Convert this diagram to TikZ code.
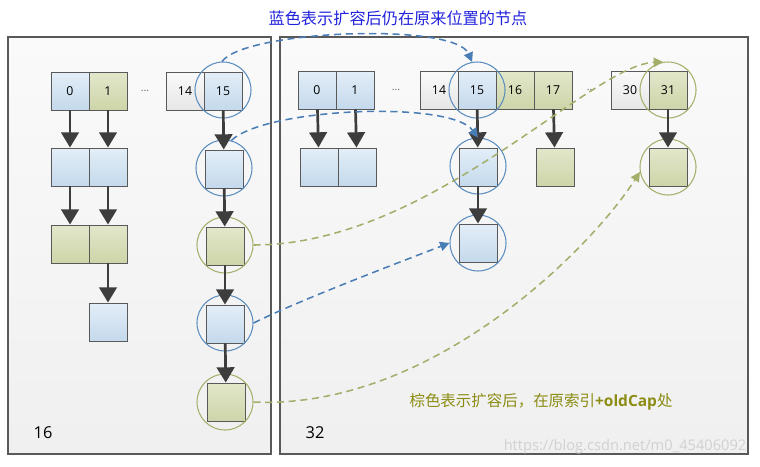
\documentclass[tikz,border=0pt]{standalone}
\usepackage{fontspec}
\setmainfont{Open Sans}
\newfontfamily\cjk{Noto Sans CJK SC}
\usetikzlibrary{arrows.meta}

\definecolor{boxline}{HTML}{595959}
\definecolor{blueTop}{HTML}{E3EEF8}
\definecolor{blueBot}{HTML}{C4D9EC}
\definecolor{greenTop}{HTML}{E2E7CB}
\definecolor{greenBot}{HTML}{CDD5A8}
\definecolor{grayTop}{HTML}{FAFAFA}
\definecolor{grayBot}{HTML}{E6E6E6}
\definecolor{ringblue}{HTML}{5B8DBF}
\definecolor{ringgreen}{HTML}{A3B06A}
\definecolor{dashblue}{HTML}{4A7DB5}
\definecolor{dashgreen}{HTML}{A2AF6A}
\definecolor{linkgray}{HTML}{3D3D3D}
\definecolor{titleblue}{HTML}{2222DD}
\definecolor{noteolive}{HTML}{8C8C14}

\begin{document}
\begin{tikzpicture}[x=0.03cm, y=-0.03cm, > = {Triangle[width=15pt,length=13pt]}]
            % Estilos
            \tikzstyle{cell}=[draw=boxline, line width=0.8pt, inner sep=0pt, minimum width=1.14cm, minimum height=1.14cm, font=\fontsize{10.5}{12}\selectfont]
            \tikzstyle{bluecell}=[cell, top color=blueTop, bottom color=blueBot]
            \tikzstyle{greencell}=[cell, top color=greenTop, bottom color=greenBot]
            \tikzstyle{graycell}=[cell, top color=grayTop, bottom color=grayBot]
            \tikzstyle{ring}=[circle, inner sep=0pt, minimum size=1.68cm, line width=0.9pt]
            \tikzstyle{bluering}=[ring, draw=ringblue]
            \tikzstyle{greenring}=[ring, draw=ringgreen]
            \tikzstyle{link}=[->, line width=2.3pt, draw=linkgray, fill=linkgray]
            \tikzstyle{move}=[-{Triangle[width=8pt,length=8pt]}, dash pattern=on 6pt off 4pt, line width=1.3pt]
            \tikzstyle{dots}=[font=\fontsize{9}{10}\selectfont, text=black!60]
            \tikzstyle{size}=[font=\fontsize{14}{16}\selectfont]

            \useasboundingbox (0,0) rectangle (760,466);

            % Paineis
            \draw[boxline, line width=0.9pt, top color=black!2, bottom color=black!6] (8,37) rectangle (271,454);
            \draw[boxline, line width=0.9pt, top color=black!2, bottom color=black!6] (280,37) rectangle (748,454);

            % Tabela 16
            \node[bluecell] (l0) at (70,91) {0};
            \node[greencell] (l1) at (108,91) {1};
            \node[dots] (ldots) at (145,91) {...};
            \node[graycell] (l14) at (185,91) {14};
            \node[bluecell] (l15) at (223,91) {15};

            \node[bluecell] (l0a) at (70,167) {};
            \node[bluecell] (l1a) at (108,167) {};
            \node[greencell] (l0b) at (70,244) {};
            \node[greencell] (l1b) at (108,244) {};
            \node[bluecell] (l1c) at (108,322) {};

            \node[bluecell] (l15a) at (224,169) {};
            \node[greencell] (l15b) at (225,246) {};
            \node[bluecell] (l15c) at (225,324) {};
            \node[greencell] (l15d) at (226,402) {};

            % Tabela 32
            \node[bluecell] (r0) at (317,90) {0};
            \node[bluecell] (r1) at (355,90) {1};
            \node[dots] (rdots) at (396,90) {...};
            \node[graycell] (r14) at (439,90) {14};
            \node[bluecell] (r15) at (477,90) {15};
            \node[greencell] (r16) at (515,90) {16};
            \node[greencell] (r17) at (553,90) {17};
            \node[dots] (rdots2) at (591,90) {...};
            \node[graycell] (r30) at (630,90) {30};
            \node[greencell] (r31) at (668,90) {31};

            \node[bluecell] (r0a) at (319,167) {};
            \node[bluecell] (r1a) at (357,167) {};
            \node[bluecell] (r15a) at (478,167) {};
            \node[greencell] (r17a) at (555,167) {};
            \node[greencell] (r31a) at (668,167) {};
            \node[bluecell] (r15b) at (478,243) {};

            % Circulos
            \node[bluering] (cl15) at (223,90) {};
            \node[bluering] (cl15a) at (224,168) {};
            \node[greenring] (cl15b) at (225,245) {};
            \node[bluering] (cl15c) at (225,323) {};
            \node[greenring] (cl15d) at (225,402) {};
            \node[bluering] (cr15) at (477,90) {};
            \node[bluering] (cr15a) at (478,166) {};
            \node[bluering] (cr15b) at (478,243) {};
            \node[greenring] (cr31) at (668,90) {};
            \node[greenring] (cr31a) at (668,167) {};

            % Arestas
            \draw[link] (l0) -- (l0a);
            \draw[link] (l1) -- (l1a);
            \draw[link] (l0a) -- (l0b);
            \draw[link] (l1a) -- (l1b);
            \draw[link] (l1b) -- (l1c);
            \draw[link] (l15) -- (l15a);
            \draw[link] (l15a) -- (l15b);
            \draw[link] (l15b) -- (l15c);
            \draw[link] (l15c) -- (l15d);
            \draw[link] (r0) -- (r0a);
            \draw[link] (r1) -- (r1a);
            \draw[link] (r15) -- (r15a);
            \draw[link] (r17) -- (r17a);
            \draw[link] (r31) -- (r31a);
            \draw[link] (r15a) -- (r15b);

            % Movimentos
            \draw[move, dashblue] (cl15.92) .. controls (245,30) and (455,22) .. (cr15.100);
            \draw[move, dashblue] (cl15a.75) .. controls (265,108) and (450,100) .. (cr15a.north);
            \draw[move, dashblue] (cl15c.east) .. controls (300,300) and (400,262) .. (cr15b.west);
            \draw[move, dashgreen] (cl15b.east) .. controls (430,245) and (590,65) .. (cr31.100);
            \draw[move, dashgreen] (cl15d.east) .. controls (430,410) and (590,250) .. (cr31a.190);

            % Anotacoes
            \node[text=titleblue, font=\fontsize{13.8}{16}\selectfont\cjk] (title) at (398,18) {蓝色表示扩容后仍在原来位置的节点};
            \node[text=noteolive, font=\fontsize{13.2}{15}\selectfont] (note) at (541,402) {{\cjk 棕色表示扩容后，在原索引}\textbf{+oldCap}{\cjk 处}};
            \node[size] (n16) at (43,433) {16};
            \node[size] (n32) at (315,433) {32};
            \node[text=black!18, font=\fontsize{12.5}{14}\selectfont] (mark) at (625,447) {https://blog.csdn.net/m0\_45406092};
        \end{tikzpicture}
\end{document}
